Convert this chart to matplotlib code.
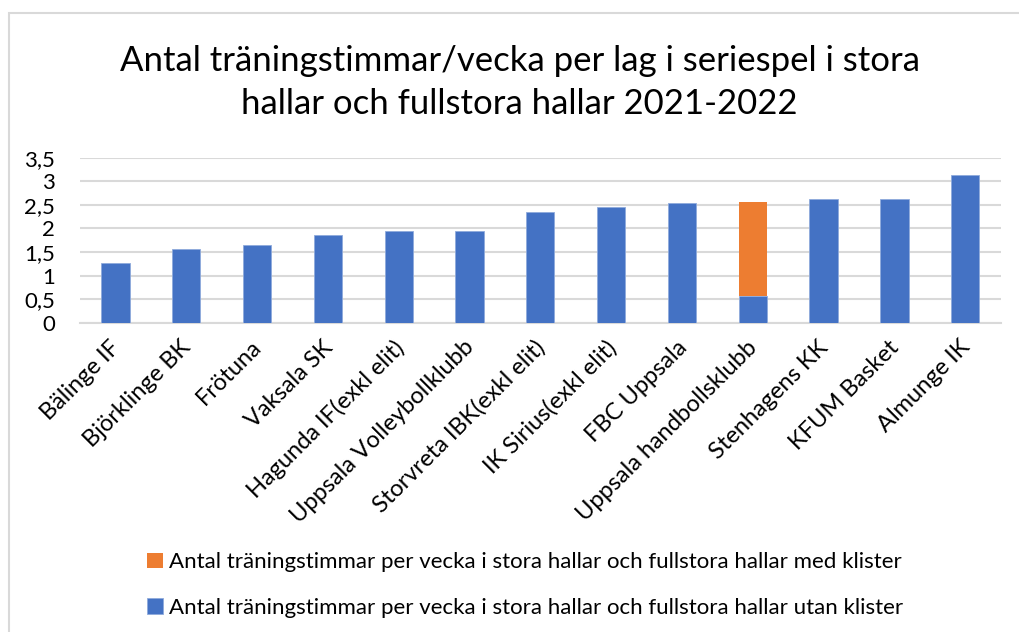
import matplotlib.pyplot as plt
import numpy as np
from matplotlib.patches import Rectangle
from matplotlib.ticker import FuncFormatter
from matplotlib.transforms import ScaledTranslation

plt.rcParams['font.family'] = ['Lato', 'DejaVu Sans']

klubbar = ["Bälinge IF", "Björklinge BK", "Frötuna", "Vaksala SK",
           "Hagunda IF(exkl elit)", "Uppsala Volleybollklubb",
           "Storvreta IBK(exkl elit)", "IK Sirius(exkl elit)", "FBC Uppsala",
           "Uppsala handbollsklubb", "Stenhagens KK", "KFUM Basket", "Almunge IK"]
utan_klister = [1.27, 1.56, 1.65, 1.85, 1.94, 1.95, 2.35, 2.46, 2.54, 0.57, 2.62, 2.62, 3.13]
med_klister = [0, 0, 0, 0, 0, 0, 0, 0, 0, 2.0, 0, 0, 0]
yticks = [0, 0.5, 1, 1.5, 2, 2.5, 3, 3.5]

lbl_med = "Antal träningstimmar per vecka i stora hallar och fullstora hallar med klister"
lbl_utan = "Antal träningstimmar per vecka i stora hallar och fullstora hallar utan klister"

blue = "#4472c4"
orange = "#ed7d31"

fig = plt.figure(figsize=(10.19, 6.32), dpi=100)
ax = fig.add_axes([0.0785, 0.4894, 0.9035, 0.2611])

x = np.arange(len(klubbar))
b1 = ax.bar(x, utan_klister, width=0.4, color=blue, edgecolor="#8faadc", linewidth=0.6, zorder=3)
b2 = ax.bar(x, med_klister, width=0.4, bottom=utan_klister, color=orange, zorder=3)

ax.set_xlim(-0.5, len(klubbar) - 0.5)
ax.set_ylim(0, 3.5)
ax.set_yticks(yticks)
ax.yaxis.set_major_formatter(FuncFormatter(lambda v, p: f"{v:g}".replace(".", ",")))
ax.grid(axis="y", color="#d9d9d9", linewidth=1.5, zorder=0)
for s in ["top", "right", "left"]:
    ax.spines[s].set_visible(False)
ax.spines["bottom"].set_color("#d9d9d9")
ax.spines["bottom"].set_linewidth(1.5)
ax.tick_params(axis="both", length=0, labelsize=16, colors="#000000")
ax.tick_params(axis="y", pad=18)
ax.set_xticks(x)
ax.set_xticklabels(klubbar, rotation=45, ha="right", rotation_mode="anchor", fontsize=17)
shift = ScaledTranslation(-6 / 100, -9 / 100, fig.dpi_scale_trans)
for t in ax.get_xticklabels():
    t.set_transform(t.get_transform() + shift)

fig.text(0.51, 0.869, "Antal träningstimmar/vecka per lag i seriespel i stora\nhallar och fullstora hallar 2021-2022",
         ha="center", va="center", fontsize=25, linespacing=1.42)

fig.legend([b2, b1], [lbl_med, lbl_utan], loc="upper left", bbox_to_anchor=(0.1443, 0.126),
           ncol=1, frameon=False, fontsize=16, handlelength=0.7, handleheight=0.7,
           handletextpad=0.3, labelspacing=1.15, borderpad=0, borderaxespad=0)

fig.patches.append(Rectangle((9 / 1019, -0.1), 1.2, 1 - 13 / 632 + 0.1, transform=fig.transFigure,
                             fill=False, edgecolor="#d9d9d9", linewidth=1.5))

fig.savefig("out.png", dpi=100)
